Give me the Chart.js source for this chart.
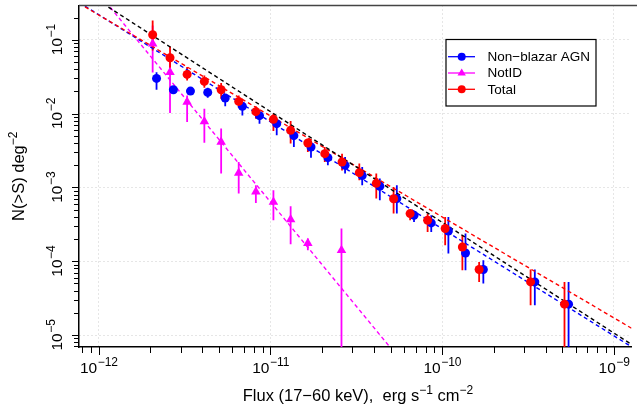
<!DOCTYPE html>
<html>
<head>
<meta charset="utf-8">
<script src="https://cdn.jsdelivr.net/npm/chart.js@4.4.1/dist/chart.umd.min.js"></script>
<style>
  html, body { margin: 0; padding: 0; background: #fff; }
</style>
</head>
<body>
<canvas id="chart" width="637" height="409"></canvas>
<script>
// Total (red circles)
const fluxTotal = [2.06e-12, 2.60e-12, 3.27e-12, 4.12e-12, 5.16e-12, 6.53e-12, 8.22e-12, 1.04e-11, 1.31e-11, 1.65e-11, 2.07e-11,
  2.61e-11, 3.29e-11, 4.13e-11, 5.21e-11, 6.50e-11, 8.22e-11, 1.04e-10, 1.31e-10, 1.64e-10, 3.27e-10, 5.15e-10];
const nTotal = [0.117, 0.0571, 0.0339, 0.0273, 0.02105, 0.01462, 0.01062, 0.00835, 0.00593, 0.00399, 0.002866,
  0.002208, 0.001585, 0.001136, 0.000701, 0.000442, 0.000359, 0.000277, 0.000156, 7.73e-5, 5.25e-5, 2.62e-5];
const nTotalHi = [0.182, 0.0812, 0.0426, 0.0329, 0.02586, 0.01763, 0.01252, 0.00997, 0.00792, 0.00457, 0.00352,
  0.002866, 0.0021, 0.001537, 0.001013, 0.00049, 0.000442, 0.000398, 0.000225, 9.78e-5, 7.72e-5, 5.25e-5];
const nTotalLo = [0.0716, 0.0384, 0.0281, 0.0224, 0.0159, 0.01202, 0.00853, 0.0058, 0.00392, 0.00301, 0.002207,
  0.0017, 0.001247, 0.000706, 0.000442, 0.000359, 0.000249, 0.000165, 7.55e-5, 5.25e-5, 2.54e-5, 1e-7];

// Non-blazar AGN (blue circles)
const fluxAgn = [2.17e-12, 2.72e-12, 3.42e-12, 4.31e-12, 5.45e-12, 6.86e-12, 8.63e-12, 1.087e-11, 1.368e-11, 1.721e-11, 2.158e-11,
  2.718e-11, 3.42e-11, 4.33e-11, 5.44e-11, 6.85e-11, 8.63e-11, 1.086e-10, 1.366e-10, 1.735e-10, 3.46e-10, 5.44e-10];
const nAgn = [0.02995, 0.02105, 0.02016, 0.01936, 0.01622, 0.01252, 0.00937, 0.0073, 0.00502, 0.00352, 0.00253,
  0.00199, 0.001445, 0.001035, 0.000705, 0.000419, 0.00033, 0.000257, 0.000129, 7.73e-5, 5.25e-5, 2.62e-5];
const nAgnHi = [0.0364, 0.02333, 0.0223, 0.0224, 0.0182, 0.0143, 0.01048, 0.00853, 0.00562, 0.00411, 0.00301,
  0.00258, 0.00189, 0.001315, 0.001068, 0.000465, 0.000419, 0.000398, 0.000237, 0.0001031, 7.72e-5, 5.25e-5];
const nAgnLo = [0.02105, 0.0187, 0.0182, 0.0164, 0.01252, 0.00945, 0.0073, 0.00507, 0.00352, 0.00253, 0.00199,
  0.001537, 0.001068, 0.000669, 0.000442, 0.00034, 0.000249, 0.000127, 7.55e-5, 4.99e-5, 2.54e-5, 1e-7];

// NotID (magenta triangles)
const fluxNotId = [2.06e-12, 2.60e-12, 3.27e-12, 4.12e-12, 5.16e-12, 6.53e-12, 8.22e-12, 1.04e-11, 1.31e-11, 1.65e-11, 2.59e-11];
const nNotId = [0.0883, 0.0364, 0.01432, 0.00784, 0.00411, 0.001567, 0.000872, 0.000634, 0.000367, 0.000175, 0.000141];
const nNotIdHi = [0.156, 0.0525, 0.01763, 0.01165, 0.0063, 0.002207, 0.001068, 0.000913, 0.000555, 0.000203, 0.000277];
const nNotIdLo = [0.0361, 0.01016, 0.00767, 0.00404, 0.001537, 0.000824, 0.000615, 0.000359, 0.00017, 0.000141, 1e-7];

// power-law models: N(>S) = norm * (S / 1e-11)^slope
const fitNames = ['Euclidean', 'Total', 'Non-blazar AGN', 'NotID'];
const fitNorm = [0.01062, 0.00928, 0.00774, 0.000634];
const fitSlope = [-1.5, -1.368, -1.45, -2.826];
const fitColors = ['#000000', '#ff0000', '#0000ff', '#ff00ff'];

const xMajor = [1e-12, 1e-11, 1e-10, 1e-9];
const yMajor = [1e-5, 1e-4, 1e-3, 1e-2, 1e-1];

const xLo = Math.pow(10, -12.115), xHi = Math.pow(10, -8.898);
const yLo = Math.pow(10, -5.162), yHi = Math.pow(10, -0.536);

const FONT = '"Liberation Sans", Arial, Helvetica, sans-serif';

function pts(xs, ys) {
  return xs.map((x, i) => ({ x: x, y: ys[i] }));
}

const fitSets = fitNorm.map((n, i) => ({
  type: 'line',
  label: fitNames[i],
  data: [xLo, xHi].map(x => ({ x: x, y: n * Math.pow(x / 1e-11, fitSlope[i]) })),
  borderColor: fitColors[i],
  borderWidth: 1.4,
  borderDash: [4, 3],
  pointRadius: 0,
  fill: false,
  order: 5
}));

const errSets = [
  { x: fluxNotId, lo: nNotIdLo, hi: nNotIdHi, color: '#ff00ff' },
  { x: fluxAgn, lo: nAgnLo, hi: nAgnHi, color: '#0000ff' },
  { x: fluxTotal, lo: nTotalLo, hi: nTotalHi, color: '#ff0000' }
];

// "10" with a superscript exponent, centred on the origin
function drawPow(ctx, exp, size) {
  const base = '10', sup = '\u2212' + Math.abs(exp);
  ctx.font = size + 'px ' + FONT;
  const w1 = ctx.measureText(base).width;
  ctx.font = Math.round(size * 0.75) + 'px ' + FONT;
  const w2 = ctx.measureText(sup).width;
  const x0 = -(w1 + w2) / 2;
  ctx.textAlign = 'left';
  ctx.textBaseline = 'alphabetic';
  ctx.font = size + 'px ' + FONT;
  ctx.fillText(base, x0, 0);
  ctx.font = Math.round(size * 0.75) + 'px ' + FONT;
  ctx.fillText(sup, x0 + w1 + 0.5, -size * 0.42);
}

function drawRich(ctx, parts, size, cx, cy) {
  let total = 0;
  parts.forEach(p => {
    ctx.font = (p[1] ? Math.round(size * 0.75) : size) + 'px ' + FONT;
    total += ctx.measureText(p[0]).width;
  });
  let x = cx - total / 2;
  ctx.textAlign = 'left';
  ctx.textBaseline = 'alphabetic';
  parts.forEach(p => {
    ctx.font = (p[1] ? Math.round(size * 0.75) : size) + 'px ' + FONT;
    ctx.fillText(p[0], x, cy - (p[1] ? size * 0.42 : 0));
    x += ctx.measureText(p[0]).width;
  });
}

const errorBars = {
  id: 'errorBars',
  beforeDatasetsDraw(chart) {
    const { ctx, chartArea: a, scales: { x, y } } = chart;
    ctx.save();
    ctx.beginPath();
    ctx.rect(a.left, a.top, a.right - a.left, a.bottom - a.top);
    ctx.clip();
    ctx.lineWidth = 1.8;
    errSets.forEach(s => {
      ctx.strokeStyle = s.color;
      s.x.forEach((fx, i) => {
        const px = x.getPixelForValue(fx);
        ctx.beginPath();
        ctx.moveTo(px, y.getPixelForValue(s.lo[i]));
        ctx.lineTo(px, y.getPixelForValue(s.hi[i]));
        ctx.stroke();
      });
    });
    ctx.restore();
  }
};

const axesDeco = {
  id: 'axesDeco',
  afterDraw(chart) {
    const { ctx, chartArea: a, scales: { x, y } } = chart;
    ctx.save();
    // top frame line
    ctx.strokeStyle = '#444';
    ctx.lineWidth = 1.6;
    ctx.beginPath();
    ctx.moveTo(a.left, a.top);
    ctx.lineTo(chart.width, a.top);
    ctx.stroke();

    // tick marks, decades and 2..9 minors
    ctx.strokeStyle = '#000';
    ctx.lineWidth = 1;
    for (let e = -13; e <= -9; e++) {
      for (let m = 1; m <= 9; m++) {
        const v = m * Math.pow(10, e);
        if (v < xLo || v > xHi) continue;
        const px = Math.round(x.getPixelForValue(v)) + 0.5;
        ctx.beginPath();
        ctx.moveTo(px, a.bottom);
        ctx.lineTo(px, a.bottom + (m === 1 ? 8 : 6));
        ctx.stroke();
      }
    }
    for (let e = -6; e <= -1; e++) {
      for (let m = 1; m <= 9; m++) {
        const v = m * Math.pow(10, e);
        if (v < yLo || v > yHi) continue;
        const py = Math.round(y.getPixelForValue(v)) + 0.5;
        ctx.beginPath();
        ctx.moveTo(a.left, py);
        ctx.lineTo(a.left - (m === 1 ? 7 : 5), py);
        ctx.stroke();
      }
    }

    // tick labels
    ctx.fillStyle = '#000';
    xMajor.forEach(v => {
      ctx.save();
      ctx.translate(x.getPixelForValue(v), 373);
      drawPow(ctx, Math.round(Math.log10(v)), 15.5);
      ctx.restore();
    });
    yMajor.forEach(v => {
      ctx.save();
      ctx.translate(62, y.getPixelForValue(v));
      ctx.rotate(-Math.PI / 2);
      drawPow(ctx, Math.round(Math.log10(v)), 15.5);
      ctx.restore();
    });

    // axis titles
    drawRich(ctx, [['Flux (17\u221260 keV),  erg s', 0], ['\u22121', 1], [' cm', 0], ['\u22122', 1]],
      16.5, (a.left + chart.width) / 2, 401);
    ctx.save();
    ctx.translate(24, (a.top + a.bottom) / 2);
    ctx.rotate(-Math.PI / 2);
    drawRich(ctx, [['N(>S) deg', 0], ['\u22122', 1]], 16.5, 0, 0);
    ctx.restore();

    // legend box
    const lx = 446, ly = 39.5, lw = 150, lh = 66.5;
    ctx.fillStyle = '#fff';
    ctx.fillRect(lx, ly, lw, lh);
    ctx.strokeStyle = '#000';
    ctx.lineWidth = 1.2;
    ctx.strokeRect(lx, ly, lw, lh);
    const items = [
      ['Non\u2212blazar AGN', '#0000ff', 'circle'],
      ['NotID', '#ff00ff', 'triangle'],
      ['Total', '#ff0000', 'circle']
    ];
    items.forEach((it, i) => {
      const ry = 56.7 + i * 16.3;
      ctx.strokeStyle = it[1];
      ctx.fillStyle = it[1];
      ctx.lineWidth = 1.3;
      ctx.beginPath();
      ctx.moveTo(448, ry);
      ctx.lineTo(475, ry);
      ctx.stroke();
      ctx.beginPath();
      if (it[2] === 'circle') {
        ctx.arc(461.7, ry, 4, 0, Math.PI * 2);
      } else {
        ctx.moveTo(461.7, ry - 4.5);
        ctx.lineTo(461.7 + 4.2, ry + 2.6);
        ctx.lineTo(461.7 - 4.2, ry + 2.6);
        ctx.closePath();
      }
      ctx.fill();
      ctx.fillStyle = '#000';
      ctx.font = '13.5px ' + FONT;
      ctx.textBaseline = 'middle';
      ctx.textAlign = 'left';
      ctx.fillText(it[0], 487.5, ry + 0.5);
    });
    ctx.restore();
  }
};

const ctx = document.getElementById('chart').getContext('2d');
new Chart(ctx, {
  type: 'scatter',
  data: {
    datasets: [
      {
        label: 'Total', data: pts(fluxTotal, nTotal), pointStyle: 'circle', pointRadius: 4.5,
        backgroundColor: '#ff0000', borderColor: '#ff0000', borderWidth: 0, order: 1
      },
      {
        label: 'NotID', data: pts(fluxNotId, nNotId), pointStyle: 'triangle', pointRadius: 5.5,
        backgroundColor: '#ff00ff', borderColor: '#ff00ff', borderWidth: 0, order: 2
      },
      {
        label: 'Non-blazar AGN', data: pts(fluxAgn, nAgn), pointStyle: 'circle', pointRadius: 4.5,
        backgroundColor: '#0000ff', borderColor: '#0000ff', borderWidth: 0, order: 3
      }
    ].concat(fitSets)
  },
  options: {
    responsive: false,
    animation: false,
    devicePixelRatio: 1,
    layout: { padding: { top: 5, right: 0, bottom: 0, left: 0 } },
    plugins: { legend: { display: false }, tooltip: { enabled: false } },
    scales: {
      x: {
        type: 'logarithmic', min: xLo, max: xHi, bounds: 'data',
        afterBuildTicks: s => { s.ticks = xMajor.map(v => ({ value: v })); },
        afterFit: s => { s.height = 62; },
        ticks: { display: false },
        grid: { color: '#cccccc', lineWidth: 1, drawTicks: false },
        border: { display: true, color: '#000', width: 1.5, dash: [1, 3] }
      },
      y: {
        type: 'logarithmic', min: yLo, max: yHi, bounds: 'data',
        afterBuildTicks: s => { s.ticks = yMajor.map(v => ({ value: v })); },
        afterFit: s => { s.width = 79; },
        ticks: { display: false },
        grid: { color: '#cccccc', lineWidth: 1, drawTicks: false },
        border: { display: true, color: '#000', width: 1.5, dash: [1, 3] }
      }
    }
  },
  plugins: [errorBars, axesDeco]
});
</script>
</body>
</html>
